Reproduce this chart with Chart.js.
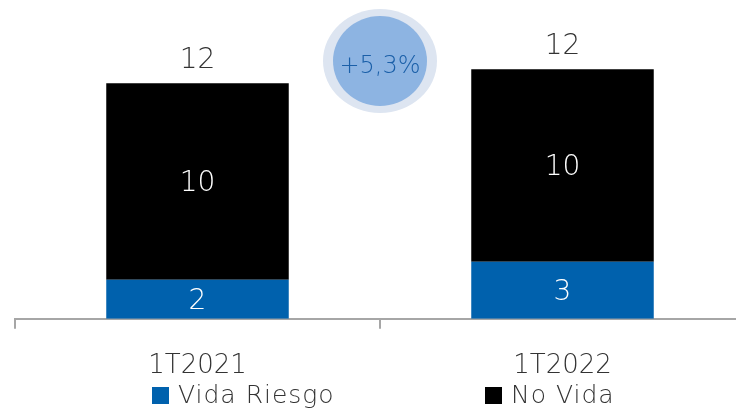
<!DOCTYPE html>
<html>
<head>
<meta charset="utf-8">
<script src="https://cdn.jsdelivr.net/npm/chart.js@4"></script>
<style>
  html, body { margin: 0; padding: 0; background: #fff; overflow: hidden; }
  #wrap { width: 760px; height: 412px; }
</style>
</head>
<body>
<div id="wrap"><canvas id="chart" width="760" height="412"></canvas></div>
<script>
(function () {
    const categories = ['1T2021', '1T2022'];
    const vidaRiesgo = [1.95, 2.85];
    const noVida = [9.8, 9.6];
    const seriesNames = ['Vida Riesgo', 'No Vida'];
    const seriesColors = ['#0061ad', '#000000'];
    const growthLabel = '+5,3%';

    const FONT = '"DejaVu Sans", sans-serif';
    const textColor = '#333333';

    // value labels inside the bars and totals above them
    const valueLabels = {
        id: 'valueLabels',
        afterDatasetsDraw(chart) {
            const ctx = chart.ctx;
            ctx.save();
            ctx.font = `200 28px ${FONT}`;
            ctx.textAlign = 'center';
            ctx.textBaseline = 'middle';
            chart.data.datasets.forEach((ds, i) => {
                chart.getDatasetMeta(i).data.forEach((bar, j) => {
                    const mid = (bar.y + bar.base) / 2;
                    ctx.fillStyle = '#ffffff';
                    ctx.fillText(Math.round(ds.data[j]), bar.x, mid + 2);
                });
            });
            const top = chart.getDatasetMeta(chart.data.datasets.length - 1);
            top.data.forEach((bar, j) => {
                const total = chart.data.datasets.reduce((s, ds) => s + ds.data[j], 0);
                ctx.fillStyle = textColor;
                ctx.fillText(Math.round(total), bar.x, bar.y - 22);
            });
            ctx.restore();
        }
    };

    // growth bubble between the two bars
    const growthBubble = {
        id: 'growthBubble',
        afterDraw(chart) {
            const ctx = chart.ctx;
            const x = (chart.scales.x.getPixelForValue(0) + chart.scales.x.getPixelForValue(1)) / 2;
            const y = 61;
            ctx.save();
            ctx.fillStyle = '#dde5f1';
            ctx.beginPath();
            ctx.ellipse(x, y, 57, 52, 0, 0, Math.PI * 2);
            ctx.fill();
            ctx.fillStyle = '#8db4e2';
            ctx.beginPath();
            ctx.ellipse(x, y, 47, 45, 0, 0, Math.PI * 2);
            ctx.fill();
            ctx.fillStyle = '#1a5fa8';
            ctx.font = `200 24px ${FONT}`;
            ctx.textAlign = 'center';
            ctx.textBaseline = 'middle';
            ctx.fillText(growthLabel, x, y + 6);
            ctx.restore();
        }
    };

    // legend drawn below the category labels
    const bottomLegend = {
        id: 'bottomLegend',
        afterDraw(chart) {
            const ctx = chart.ctx;
            const starts = [152, 485];
            const y = 396;
            ctx.save();
            ctx.font = `200 25px ${FONT}`;
            ctx.letterSpacing = '1px';
            ctx.textBaseline = 'middle';
            ctx.textAlign = 'left';
            chart.data.datasets.forEach((ds, i) => {
                ctx.fillStyle = ds.backgroundColor;
                ctx.fillRect(starts[i], y - 9, 17, 17);
                ctx.fillStyle = textColor;
                ctx.fillText(ds.label, starts[i] + 26, y);
            });
            ctx.restore();
        }
    };

    new Chart(document.getElementById('chart'), {
        type: 'bar',
        data: {
            labels: categories,
            datasets: [
                { label: seriesNames[0], data: vidaRiesgo, backgroundColor: seriesColors[0] },
                { label: seriesNames[1], data: noVida, backgroundColor: seriesColors[1] },
            ]
        },
        options: {
            responsive: false,
            animation: false,
            events: [],
            layout: { padding: { left: 15, right: 15, top: 0, bottom: 8 } },
            datasets: { bar: { categoryPercentage: 1.0, barPercentage: 0.5 } },
            scales: {
                x: {
                    stacked: true,
                    grid: {
                        offset: true,
                        drawOnChartArea: false,
                        tickLength: 10,
                        color: '#a6a6a6',
                        lineWidth: 2,
                    },
                    border: { display: true, color: '#a6a6a6', width: 2 },
                    ticks: {
                        padding: 22,
                        color: textColor,
                        font: { family: FONT, size: 26, weight: 200 },
                    },
                },
                y: {
                    stacked: true,
                    display: false,
                    min: 0,
                    max: 15.9,
                }
            },
            plugins: {
                legend: { display: false },
                tooltip: { enabled: false },
            },
        },
        plugins: [valueLabels, growthBubble, bottomLegend],
    });
})();
</script>
</body>
</html>
